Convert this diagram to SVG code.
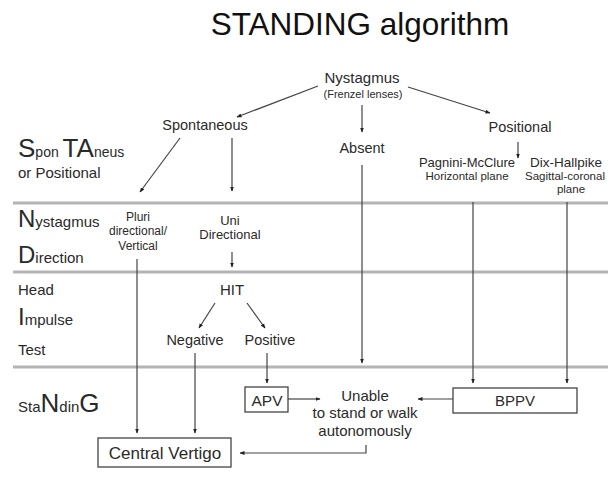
<svg xmlns="http://www.w3.org/2000/svg" width="616" height="497" viewBox="0 0 616 497">
<style>
text{font-family:"Liberation Sans",Arial,sans-serif;fill:#2a2a2a}
.t15{font-size:15px}
.t14{font-size:14.5px}
.t13{font-size:13px}
.t12{font-size:12px}
.mid{text-anchor:middle}
.big{font-size:26px}
.sm{font-size:15px}
.sep{stroke:#b4b4b4;stroke-width:3;fill:none}
.ca{stroke:#444;stroke-width:1.2;fill:none;marker-end:url(#ah)}
.box{fill:#fff;stroke:#444;stroke-width:1.3}
</style>
<defs>
<marker id="ah" viewBox="0 0 10 10" refX="9" refY="5" markerWidth="5" markerHeight="5" markerUnits="userSpaceOnUse" orient="auto">
<path d="M0,1 L10,5 L0,9 z" fill="#222"/>
</marker>
</defs>
<rect width="616" height="497" fill="#fff"/>

<g id="title"><text x="360" y="35" class="mid" style="font-size:31.5px;fill:#111">STANDING algorithm</text></g>

<g id="separators">
<line class="sep" x1="13" y1="203" x2="608" y2="203"/>
<line class="sep" x1="13" y1="272" x2="608" y2="272"/>
<line class="sep" x1="13" y1="367" x2="608" y2="367"/>
</g>

<g id="row-labels">
<text x="18" y="157"><tspan class="big">S</tspan><tspan style="font-size:14px">pon </tspan><tspan class="big">TA</tspan><tspan style="font-size:14px">neus</tspan></text>
<text x="18" y="178" class="t15">or Positional</text>
<text x="18" y="227"><tspan style="font-size:24px">N</tspan><tspan class="sm">ystagmus</tspan></text>
<text x="18" y="263"><tspan style="font-size:24px">D</tspan><tspan class="sm">irection</tspan></text>
<text x="18" y="295" class="t15">Head</text>
<text x="18" y="325"><tspan style="font-size:24px">I</tspan><tspan class="sm">mpulse</tspan></text>
<text x="18" y="355" class="t15">Test</text>
<text x="18" y="412"><tspan class="sm">Sta</tspan><tspan class="big">N</tspan><tspan class="sm">din</tspan><tspan class="big">G</tspan></text>
</g>

<g id="nystagmus"><text x="362" y="83" class="mid t15">Nystagmus</text><text x="363" y="98" class="mid" style="font-size:11px">(Frenzel lenses)</text></g>
<g id="spontaneous"><text x="205" y="130" class="mid t14">Spontaneous</text></g>
<g id="absent"><text x="362" y="153" class="mid t14">Absent</text></g>
<g id="positional"><text x="520" y="132" class="mid t14">Positional</text></g>
<g id="pagnini"><text x="467" y="167" class="mid t13">Pagnini-McClure</text><text x="467" y="180" class="mid" style="font-size:11.5px">Horizontal plane</text></g>
<g id="dix"><text x="566" y="167" class="mid" style="font-size:13.5px">Dix-Hallpike</text><text x="565" y="180" class="mid" style="font-size:11.5px">Sagittal-coronal</text><text x="571" y="193" class="mid" style="font-size:11.5px">plane</text></g>
<g id="pluri"><text x="138" y="221" class="mid t12">Pluri</text><text x="138" y="235" class="mid t12">directional/</text><text x="138" y="250" class="mid t12">Vertical</text></g>
<g id="uni"><text x="230" y="225" class="mid t13">Uni</text><text x="230" y="239" class="mid t13">Directional</text></g>
<g id="hit"><text x="232" y="295" class="mid t15">HIT</text></g>
<g id="negative"><text x="195" y="345" class="mid t14">Negative</text></g>
<g id="positive"><text x="270" y="345" class="mid t14">Positive</text></g>
<g id="apv"><rect class="box" x="245" y="387" width="43" height="25"/><text x="267" y="405.5" class="mid" style="font-size:15.5px">APV</text></g>
<g id="bppv"><rect class="box" x="453" y="388" width="124" height="25"/><text x="515" y="406" class="mid t15">BPPV</text></g>
<g id="unable"><text x="365" y="401" class="mid t15">Unable</text><text x="365" y="418" class="mid t15">to stand or walk</text><text x="365" y="436" class="mid t15">autonomously</text></g>
<g id="central"><rect class="box" x="98" y="438" width="133" height="29"/><text x="165" y="459" class="mid" style="font-size:17px">Central Vertigo</text></g>

<g id="connectors">
<line class="ca" x1="318" y1="86" x2="237" y2="117"/>
<line class="ca" x1="408" y1="87" x2="490" y2="113"/>
<line class="ca" x1="362" y1="105" x2="362" y2="132"/>
<line class="ca" x1="518" y1="142" x2="518" y2="158"/>
<line class="ca" x1="180" y1="138" x2="140" y2="192"/>
<line class="ca" x1="232" y1="138" x2="232" y2="191"/>
<line class="ca" x1="362" y1="165" x2="362" y2="363"/>
<line class="ca" x1="473" y1="202" x2="473" y2="383"/>
<line class="ca" x1="567" y1="202" x2="567" y2="383"/>
<line class="ca" x1="232" y1="252" x2="232" y2="267"/>
<line class="ca" x1="215" y1="303" x2="199" y2="328"/>
<line class="ca" x1="247" y1="303" x2="265" y2="328"/>
<line class="ca" x1="137" y1="259" x2="137" y2="433"/>
<line class="ca" x1="195" y1="353" x2="195" y2="433"/>
<line class="ca" x1="267" y1="353" x2="267" y2="383"/>
<line class="ca" x1="288" y1="399" x2="320" y2="399"/>
<line class="ca" x1="453" y1="399" x2="418" y2="399"/>
<polyline class="ca" points="366,445 366,453 240,453"/>
</g>
</svg>
